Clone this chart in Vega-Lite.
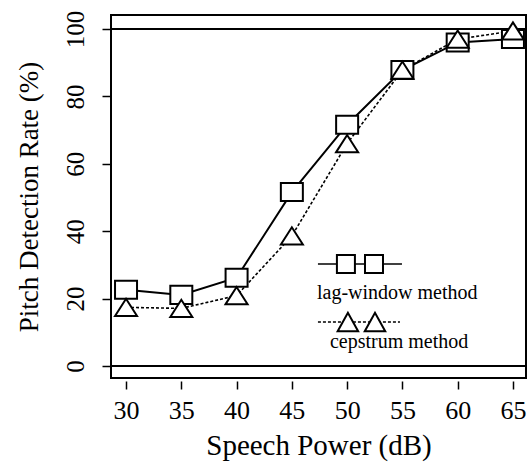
{
  "$schema": "https://vega.github.io/schema/vega-lite/v6.json",
  "autosize": {"type": "none"},
  "padding": {"left": 111, "top": 15, "right": 3, "bottom": 91},
  "width": 415,
  "height": 363,
  "background": "white",
  "config": {
    "font": "Liberation Serif",
    "view": {"stroke": "black", "strokeWidth": 2},
    "axis": {
      "grid": false,
      "domain": false,
      "labelFont": "Liberation Serif",
      "titleFont": "Liberation Serif",
      "labelColor": "black",
      "titleColor": "black",
      "tickColor": "black",
      "tickWidth": 1.5,
      "titleFontWeight": "normal"
    }
  },
  "datasets": {
    "series": [
      {"power": 30, "method": "lag-window", "rate": 22.6},
      {"power": 35, "method": "lag-window", "rate": 21.1},
      {"power": 40, "method": "lag-window", "rate": 26.2},
      {"power": 45, "method": "lag-window", "rate": 51.6},
      {"power": 50, "method": "lag-window", "rate": 71.6},
      {"power": 55, "method": "lag-window", "rate": 87.8},
      {"power": 60, "method": "lag-window", "rate": 96.0},
      {"power": 65, "method": "lag-window", "rate": 97.0},
      {"power": 30, "method": "cepstrum", "rate": 17.4},
      {"power": 35, "method": "cepstrum", "rate": 17.1},
      {"power": 40, "method": "cepstrum", "rate": 20.9},
      {"power": 45, "method": "cepstrum", "rate": 38.6},
      {"power": 50, "method": "cepstrum", "rate": 66.0},
      {"power": 55, "method": "cepstrum", "rate": 87.8},
      {"power": 60, "method": "cepstrum", "rate": 97.0},
      {"power": 65, "method": "cepstrum", "rate": 99.4}
    ],
    "refLines": [{"rate": 0}, {"rate": 100}],
    "legendLines": [
      {"method": "lag-window", "power": 47.36, "power2": 54.96, "rate": 30.27},
      {"method": "cepstrum", "power": 47.36, "power2": 54.78, "rate": 13.06}
    ],
    "legendMarks": [
      {"method": "lag-window", "power": 49.89, "rate": 30.27},
      {"method": "lag-window", "power": 52.43, "rate": 30.27},
      {"method": "cepstrum", "power": 50.07, "rate": 13.06},
      {"method": "cepstrum", "power": 52.52, "rate": 13.06}
    ],
    "legendText": [
      {"label": "lag-window method", "power": 47.27, "rate": 21.66},
      {"label": "cepstrum method", "power": 48.45, "rate": 7.12}
    ]
  },
  "layer": [
    {
      "data": {"name": "refLines"},
      "mark": {"type": "rule", "color": "black", "strokeWidth": 2},
      "encoding": {
        "y": {
          "field": "rate", "type": "quantitative",
          "scale": {"domain": [-3.56, 104.15], "nice": false, "zero": false},
          "axis": {"values": [0, 20, 40, 60, 80, 100], "title": "Pitch Detection Rate (%)", "labelAngle": -90, "labelAlign": "center", "labelBaseline": "bottom", "labelFontSize": 25, "titleFontSize": 27, "tickSize": 9, "labelPadding": 14, "titlePadding": 20,
            "encode": {"labels": {"update": {"angle": {"value": -90}, "align": {"value": "center"}, "baseline": {"value": "bottom"}}}}}
        }
      }
    },
    {
      "data": {"name": "series"},
      "transform": [{"filter": "datum.method === 'lag-window'"}],
      "mark": {"type": "line", "color": "black", "strokeWidth": 2},
      "encoding": {
        "x": {
          "field": "power", "type": "quantitative",
          "scale": {"domain": [28.64, 66.18], "nice": false, "zero": false},
          "axis": {"values": [30, 35, 40, 45, 50, 55, 60, 65], "title": "Speech Power (dB)", "labelFontSize": 26, "titleFontSize": 29, "tickSize": 8, "offset": 3, "labelPadding": 8, "titlePadding": 8}
        },
        "y": {"field": "rate", "type": "quantitative"}
      }
    },
    {
      "data": {"name": "series"},
      "transform": [{"filter": "datum.method === 'cepstrum'"}],
      "mark": {"type": "line", "color": "black", "strokeWidth": 1.6, "strokeDash": [3, 2]},
      "encoding": {
        "x": {"field": "power", "type": "quantitative"},
        "y": {"field": "rate", "type": "quantitative"}
      }
    },
    {
      "data": {"name": "series"},
      "transform": [{"filter": "datum.method === 'lag-window'"}],
      "mark": {"type": "point", "shape": "M-1,-0.82L1,-0.82L1,0.82L-1,0.82Z", "size": 484, "filled": false, "fill": "white", "fillOpacity": 1, "stroke": "black", "strokeWidth": 2, "opacity": 1},
      "encoding": {
        "x": {"field": "power", "type": "quantitative"},
        "y": {"field": "rate", "type": "quantitative"}
      }
    },
    {
      "data": {"name": "series"},
      "transform": [{"filter": "datum.method === 'cepstrum'"}],
      "mark": {"type": "point", "shape": "M-1,0.78L0,-0.78L1,0.78Z", "size": 484, "filled": false, "fill": "white", "fillOpacity": 1, "stroke": "black", "strokeWidth": 2, "opacity": 1},
      "encoding": {
        "x": {"field": "power", "type": "quantitative"},
        "y": {"field": "rate", "type": "quantitative"}
      }
    },
    {
      "data": {"name": "legendLines"},
      "transform": [{"filter": "datum.method === 'lag-window'"}],
      "mark": {"type": "rule", "color": "black", "strokeWidth": 1.5},
      "encoding": {
        "x": {"field": "power", "type": "quantitative"},
        "x2": {"field": "power2"},
        "y": {"field": "rate", "type": "quantitative"}
      }
    },
    {
      "data": {"name": "legendLines"},
      "transform": [{"filter": "datum.method === 'cepstrum'"}],
      "mark": {"type": "rule", "color": "black", "strokeWidth": 1.5, "strokeDash": [3, 2]},
      "encoding": {
        "x": {"field": "power", "type": "quantitative"},
        "x2": {"field": "power2"},
        "y": {"field": "rate", "type": "quantitative"}
      }
    },
    {
      "data": {"name": "legendMarks"},
      "transform": [{"filter": "datum.method === 'lag-window'"}],
      "mark": {"type": "point", "shape": "square", "size": 324, "filled": false, "fill": "white", "fillOpacity": 1, "stroke": "black", "strokeWidth": 2, "opacity": 1},
      "encoding": {
        "x": {"field": "power", "type": "quantitative"},
        "y": {"field": "rate", "type": "quantitative"}
      }
    },
    {
      "data": {"name": "legendMarks"},
      "transform": [{"filter": "datum.method === 'cepstrum'"}],
      "mark": {"type": "point", "shape": "M-1,0.9L0,-0.9L1,0.9Z", "size": 420, "filled": false, "fill": "white", "fillOpacity": 1, "stroke": "black", "strokeWidth": 2, "opacity": 1},
      "encoding": {
        "x": {"field": "power", "type": "quantitative"},
        "y": {"field": "rate", "type": "quantitative"}
      }
    },
    {
      "data": {"name": "legendText"},
      "mark": {"type": "text", "font": "Liberation Serif", "fontSize": 20, "align": "left", "baseline": "middle", "color": "black"},
      "encoding": {
        "x": {"field": "power", "type": "quantitative"},
        "y": {"field": "rate", "type": "quantitative"},
        "text": {"field": "label"}
      }
    }
  ]
}
